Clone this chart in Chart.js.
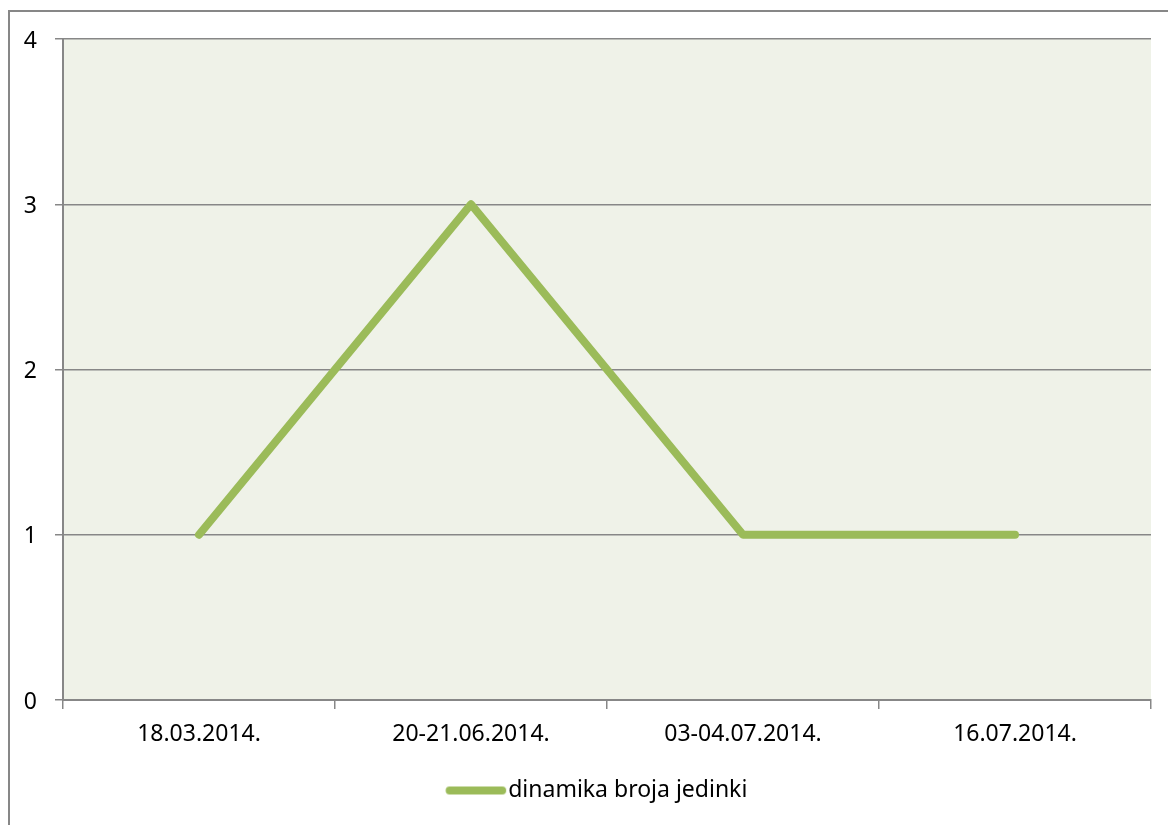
<!DOCTYPE html>
<html>
<head>
<meta charset="utf-8">
<script src="https://cdn.jsdelivr.net/npm/chart.js@4"></script>
<style>
  html, body { margin: 0; padding: 0; background: #fff; overflow: hidden; }
  #frame { position: absolute; left: 8px; top: 10px; width: 1200px; height: 900px; border: 2px solid #878787; box-sizing: border-box; }
  #wrap { position: absolute; left: 0; top: 0; width: 1168px; height: 825px; }
</style>
</head>
<body>
<div id="frame"></div>
<div id="wrap"><canvas id="chart"></canvas></div>
<script>
const labels = ['18.03.2014.', '20-21.06.2014.', '03-04.07.2014.', '16.07.2014.'];
const values = [1, 3, 1, 1];
const seriesName = 'dinamika broja jedinki';
const yTicks = [0, 1, 2, 3, 4];

const fontFam = '"Noto Sans", "Open Sans", sans-serif';
const fontSize = 23;
const gridC = '#878787';
const lineC = '#9BBB59';

// legend marker: rounded line that runs up to the text
const boxW = 58;
const marker = document.createElement('canvas');
marker.width = boxW + fontSize;
marker.height = 12;
(function () {
  const m = marker.getContext('2d');
  m.strokeStyle = lineC;
  m.lineWidth = 8;
  m.lineCap = 'round';
  m.beginPath();
  m.moveTo(fontSize / 2 + 11, 6);
  m.lineTo(marker.width - 6, 6);
  m.stroke();
})();

const plotBg = {
  id: 'plotBg',
  beforeDraw(chart) {
    const { ctx, chartArea: a } = chart;
    ctx.save();
    ctx.fillStyle = '#EFF2E8';
    ctx.fillRect(a.left, a.top, a.right - a.left, a.bottom - a.top);
    ctx.restore();
  }
};

// legend sits a bit right of the canvas centre in the original
const legendShift = {
  id: 'legendShift',
  afterLayout(chart) {
    if (chart.legend) chart.legend.left += 35;
  }
};

new Chart(document.getElementById('chart'), {
  type: 'line',
  data: {
    labels: labels,
    datasets: [{
      label: seriesName,
      data: values,
      borderColor: lineC,
      backgroundColor: lineC,
      borderWidth: 8,
      borderCapStyle: 'round',
      borderJoinStyle: 'round',
      pointRadius: 0,
      tension: 0
    }]
  },
  options: {
    responsive: true,
    maintainAspectRatio: false,
    animation: false,
    layout: { padding: { left: 0, top: 39, right: 17, bottom: 13 } },
    plugins: {
      legend: {
        position: 'bottom',
        labels: {
          usePointStyle: true,
          pointStyleWidth: boxW,
          boxWidth: boxW,
          boxHeight: 8,
          padding: 10,
          color: '#000',
          font: { size: fontSize, family: fontFam },
          generateLabels(chart) {
            return Chart.defaults.plugins.legend.labels.generateLabels(chart).map(l => {
              l.pointStyle = marker;
              return l;
            });
          }
        }
      },
      tooltip: { enabled: false }
    },
    scales: {
      x: {
        offset: true,
        afterFit(s) { s.height = 69; },
        grid: { offset: true, drawOnChartArea: false, drawTicks: true, tickLength: 9, color: gridC, lineWidth: 1.5 },
        border: { display: true, color: gridC, width: 2 },
        ticks: { color: '#000', padding: 12, font: { size: fontSize, family: fontFam }, maxRotation: 0 }
      },
      y: {
        min: 0,
        max: 4,
        afterFit(s) { s.width = 63; },
        afterBuildTicks(s) { s.ticks = yTicks.map(v => ({ value: v })); },
        grid: { color: gridC, lineWidth: 1.5, tickLength: 8 },
        border: { display: true, color: gridC, width: 2 },
        ticks: { color: '#000', padding: 18, labelOffset: 2, font: { size: fontSize, family: fontFam } }
      }
    }
  },
  plugins: [plotBg, legendShift]
});
</script>
</body>
</html>
